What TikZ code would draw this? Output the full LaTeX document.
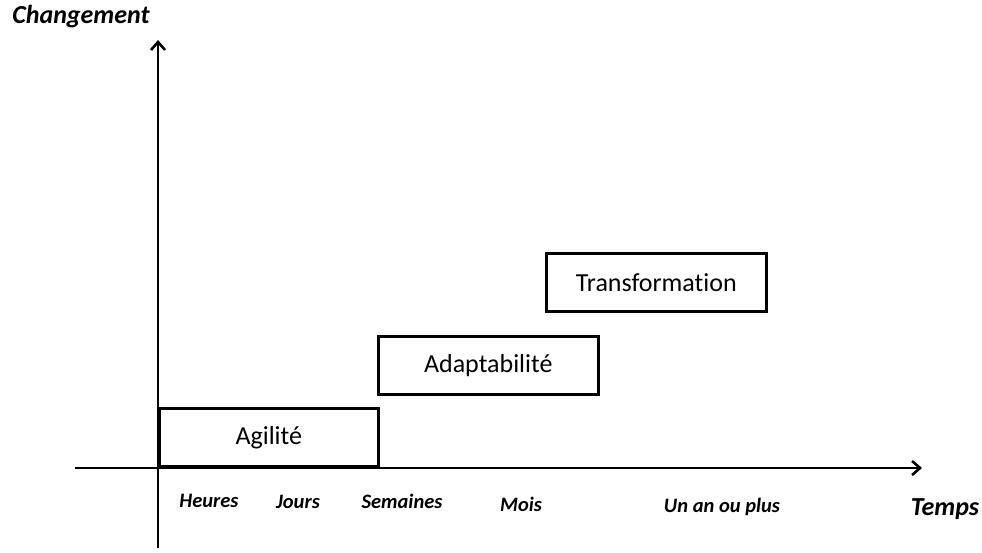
\documentclass[tikz,border=0pt]{standalone}
\usepackage{fontspec}
\setmainfont{Carlito}[Ligatures=NoCommon]
\usepackage{tikz}
\usetikzlibrary{arrows.meta}
\tikzset{
    box/.style = {draw=black, line width=2.6pt, rectangle, inner sep=0pt, align=center, font=\fontsize{26}{30}\selectfont},
    agil_box/.style = {box, anchor=south west, minimum width=219pt, minimum height=58pt},
    wide_box/.style = {box, anchor=north west, minimum width=220pt, minimum height=58pt},
    axis/.style = {line width=2.6pt, -{Straight Barb[length=8pt,width=14pt,line width=2.6pt]}},
    tick/.style = {font=\fontsize{20.5}{24}\selectfont\bfseries\itshape},
    alabel/.style = {font=\fontsize{26}{30}\selectfont\bfseries\itshape}
}
\begin{document}
\begin{tikzpicture}[x=1pt, y=-1pt]
            \useasboundingbox (0,0) rectangle (982,552);
            \coordinate (o) at (158,468);
            \coordinate (ybot) at (158,548);
            \coordinate (ytop) at (158,40);
            \coordinate (xleft) at (75,468);
            \coordinate (xright) at (922,468);
            \draw [axis] (ybot) -- (ytop);
            \draw [axis] (xleft) -- (xright);
            \node [alabel] (chg) at (81,17) {Changement};
            \node [alabel] (tps) at (945,509) {Temps};
            \node [agil_box] (agil) at (o) {Agilit\'e};
            \node [wide_box] (adapt) at (377,335) {Adaptabilit\'e};
            \node [wide_box] (transf) at (545,252) {Transformation};
            \node [tick] (h) at (209,501) {Heures};
            \node [tick] (j) at (298,502) {Jours};
            \node [tick] (s) at (402,501) {Semaines};
            \node [tick] (m) at (521,504) {Mois};
            \node [tick] (u) at (722,507) {Un an ou plus};
        \end{tikzpicture}
\end{document}
